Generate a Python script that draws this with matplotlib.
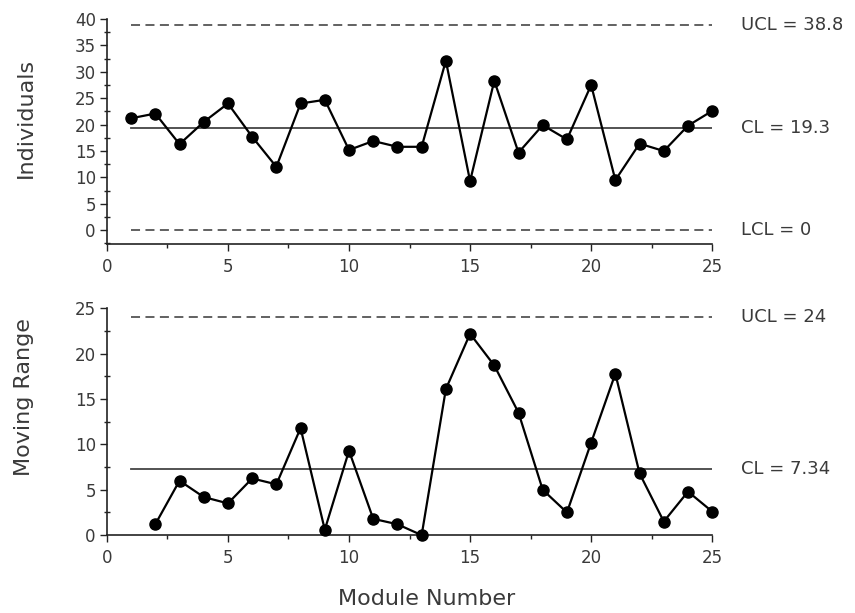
import matplotlib.pyplot as plt
from matplotlib.ticker import MultipleLocator

plt.rcParams['font.family'] = ['DejaVu Sans']

modules = list(range(1, 26))
individuals = [21.2, 22.1, 16.3, 20.5, 24.0, 17.7, 12.0, 24.0, 24.7, 15.2,
               16.9, 15.8, 15.8, 32.1, 9.3, 28.3, 14.7, 19.9, 17.2, 27.5,
               9.5, 16.4, 15.0, 19.8, 22.6]
mr_modules = list(range(2, 26))
moving_range = [1.2, 6.0, 4.2, 3.5, 6.25, 5.6, 11.8, 0.6, 9.3, 1.8,
                1.2, 0.0, 16.1, 22.2, 18.7, 13.5, 5.0, 2.5, 10.2, 17.8,
                6.8, 1.5, 4.8, 2.6]

ind_limits = {'UCL': 38.8, 'CL': 19.3, 'LCL': 0}
mr_limits = {'UCL': 24, 'CL': 7.34}

fig = plt.figure(figsize=(8.55, 6.13), dpi=100)
ax1 = fig.add_axes([0.125, 0.602, 0.708, 0.367])
ax2 = fig.add_axes([0.125, 0.127, 0.708, 0.370])

text_col = '#3a3a3a'


def style(ax):
    for s in ['top', 'right']:
        ax.spines[s].set_visible(False)
    for s in ['left', 'bottom']:
        ax.spines[s].set_linewidth(1.2)
        ax.spines[s].set_color('#222222')
    ax.set_xlim(0, 25)
    ax.xaxis.set_major_locator(MultipleLocator(5))
    ax.xaxis.set_minor_locator(MultipleLocator(2.5))
    ax.yaxis.set_major_locator(MultipleLocator(5))
    ax.yaxis.set_minor_locator(MultipleLocator(2.5))
    ax.tick_params(which='major', length=5, width=1, color='#222222',
                   labelsize=12, labelcolor=text_col, pad=3)
    ax.tick_params(axis='x', which='major', pad=5)
    ax.tick_params(which='minor', length=3, width=1, color='#222222')
    ax.tick_params(axis='y', which='minor', direction='inout', length=4)


# Individuals chart
style(ax1)
ax1.set_ylim(-2.6, 40)
ax1.plot(modules, individuals, color='black', lw=1.6, marker='o', ms=8,
         clip_on=False, zorder=3)
ax1.plot([1, 25], [ind_limits['CL']] * 2, color='#444444', lw=1.3)
ax1.plot([1, 25], [ind_limits['UCL']] * 2, color='#555555', lw=1.3, ls=(0, (5, 3)))
ax1.plot([1, 25], [ind_limits['LCL']] * 2, color='#555555', lw=1.3, ls=(0, (5, 3)))
ax1.text(26.2, ind_limits['UCL'], 'UCL = 38.8', va='center', fontsize=13, color=text_col)
ax1.text(26.2, ind_limits['CL'], 'CL = 19.3', va='center', fontsize=13, color=text_col)
ax1.text(26.2, ind_limits['LCL'], 'LCL = 0', va='center', fontsize=13, color=text_col)
ax1.set_ylabel('Individuals', fontsize=16, color=text_col, va='center')
ax1.yaxis.set_label_coords(-0.134, 0.562)

# Moving range chart
style(ax2)
ax2.set_ylim(0, 25)
ax2.plot(mr_modules, moving_range, color='black', lw=1.6, marker='o', ms=8,
         clip_on=False, zorder=3)
ax2.plot([1, 25], [mr_limits['CL']] * 2, color='#444444', lw=1.3)
ax2.plot([1, 25], [mr_limits['UCL']] * 2, color='#555555', lw=1.3, ls=(0, (5, 3)))
ax2.text(26.2, mr_limits['UCL'], 'UCL = 24', va='center', fontsize=13, color=text_col)
ax2.text(26.2, mr_limits['CL'], 'CL = 7.34', va='center', fontsize=13, color=text_col)
ax2.set_ylabel('Moving Range', fontsize=16, color=text_col, va='center')
ax2.yaxis.set_label_coords(-0.137, 0.611)
ax2.set_xlabel('Module Number', fontsize=16, color=text_col, va='center')
ax2.xaxis.set_label_coords(0.529, -0.282)

fig.savefig('out.png', dpi=100)
